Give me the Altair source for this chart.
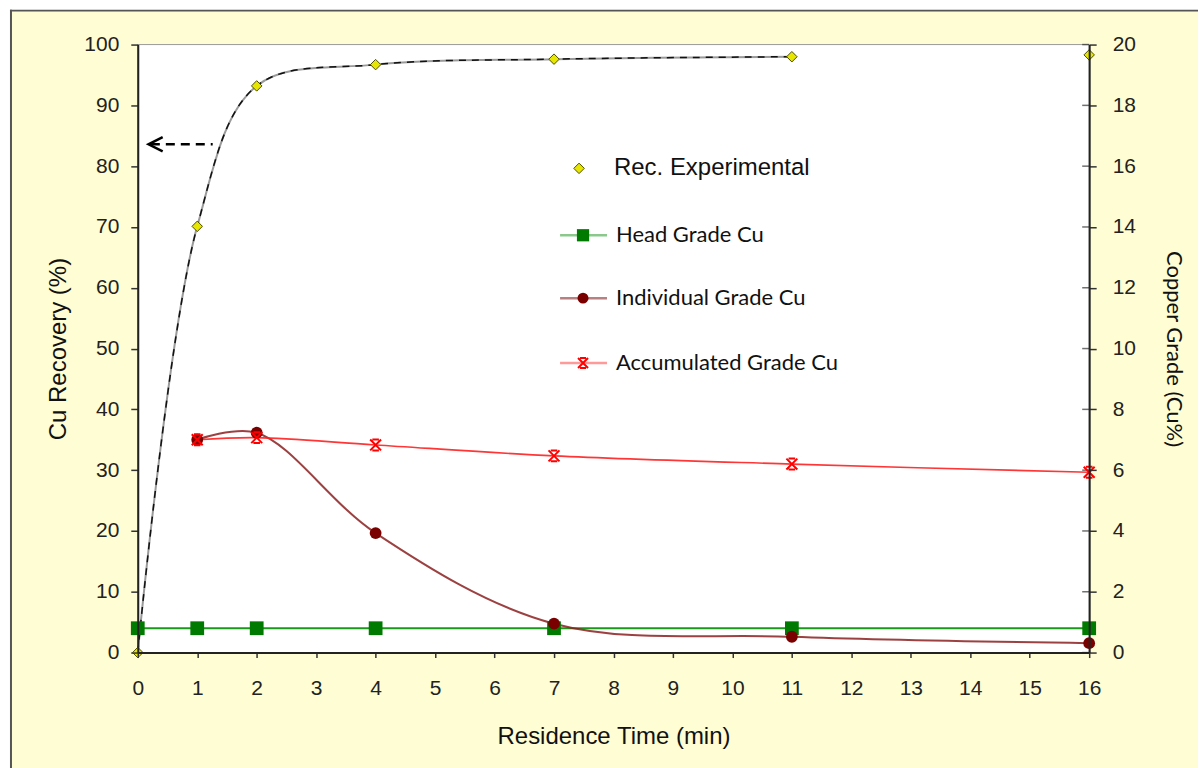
import altair as alt
import pandas as pd

# Flotation kinetics: copper recovery and concentrate grade vs residence time
time_rec = [0, 1, 2, 4, 7, 11, 16]
rec_experimental = [0.0, 70.1, 93.2, 96.7, 97.6, 98.0, 98.3]
rec_curve_time = [0, 1, 2, 4, 7, 11]
rec_curve_value = [0.0, 70.1, 93.2, 96.7, 97.6, 98.0]

time_head = [0, 1, 2, 4, 7, 11, 16]
head_grade = [0.8, 0.8, 0.8, 0.8, 0.8, 0.8, 0.8]

time_grade = [1, 2, 4, 7, 11, 16]
individual_grade = [7.0, 7.23, 3.93, 0.95, 0.52, 0.31]
accumulated_grade = [7.0, 7.07, 6.83, 6.47, 6.2, 5.93]

# arrow pointing at the recovery axis
arrow_time = [1.26, 0.22]
arrow_head_time = [0.3]
arrow_recovery = [83.6, 83.6]

x_ticks = list(range(0, 17))
left_ticks = [0, 10, 20, 30, 40, 50, 60, 70, 80, 90, 100]
right_ticks = [0, 2, 4, 6, 8, 10, 12, 14, 16, 18, 20]

W, H = 953, 609
PAD_L, PAD_T = 9, 8
PAGE_W, PAGE_H = 1199, 768
OFF_X, OFF_Y = 128, 35          # frame corner relative to the plot origin
FRAME_R = PAGE_W - PAD_L - OFF_X
FRAME_B = PAGE_H - PAD_T - OFF_Y
ARIAL = "Liberation Sans"
CALIBRI = "Lato"

rec_df = pd.DataFrame({"t": time_rec, "v": rec_experimental})
curve_df = pd.DataFrame({"t": rec_curve_time, "v": rec_curve_value})
head_df = pd.DataFrame({"t": time_head, "g": head_grade})
ind_df = pd.DataFrame({"t": time_grade, "g": individual_grade})
acc_df = pd.DataFrame({"t": time_grade, "g": accumulated_grade})
arrow_df = pd.DataFrame({"t": arrow_time, "v": arrow_recovery})
arrow_head_df = pd.DataFrame({"t": arrow_head_time, "v": arrow_recovery[:1]})
tick_df = pd.DataFrame({"g": right_ticks})
one = pd.DataFrame({"k": [0]})

x_axis = alt.Axis(
    values=x_ticks, title="Residence Time (min)", grid=False, labelFlush=False,
    domainColor="#222", domainWidth=2, tickColor="#333", tickWidth=1.5,
    tickSize=5, labelPadding=20, labelFont=ARIAL, labelFontSize=21,
    labelColor="#222", titleFont=ARIAL, titleFontSize=24,
    titleFontWeight="normal", titleColor="#111", titlePadding=26, zindex=1,
)
x_scale = alt.Scale(domain=[0, 16], nice=False, zero=False)


def xenc():
    return alt.X("t:Q", scale=x_scale, axis=x_axis)


left_y = alt.Y(
    "v:Q", scale=alt.Scale(domain=[0, 100], nice=False),
    axis=alt.Axis(
        orient="left", values=left_ticks, title="Cu Recovery (%)", grid=False,
        labelFlush=False,
        domainColor="#222", domainWidth=2, tickColor="#333", tickWidth=1.5,
        tickSize=7, labelPadding=12, labelFont=ARIAL, labelFontSize=21,
        labelColor="#222", titleFont=ARIAL, titleFontSize=24,
        titleFontWeight="normal", titleColor="#111", titlePadding=13, zindex=1,
    ),
)

right_y = alt.Y(
    "g:Q", scale=alt.Scale(domain=[0, 20], nice=False),
    axis=alt.Axis(
        orient="right", values=right_ticks, title="Copper Grade (Cu%)", grid=False,
        labelFlush=False,
        domainColor="#222", domainWidth=2, tickColor="#333", tickWidth=1.5,
        tickSize=7, labelPadding=16, labelFont=ARIAL, labelFontSize=21,
        labelColor="#222", titleFont=CALIBRI, titleFontSize=22,
        titleFontWeight="normal", titleColor="#111", titlePadding=26, zindex=1,
    ),
)

# page frame (cream panel with a dark edge on the left and top) and white plot area
frame = alt.Chart(one).mark_rect(fill="#FFFDD3").encode(
    x=alt.value(-OFF_X), x2=alt.value(FRAME_R), y=alt.value(-OFF_Y), y2=alt.value(FRAME_B)
)
frame_left = alt.Chart(one).mark_rule(color="#555555", strokeWidth=2).encode(
    x=alt.value(-OFF_X + 1), y=alt.value(-OFF_Y), y2=alt.value(FRAME_B)
)
frame_top = alt.Chart(one).mark_rule(color="#555555", strokeWidth=2).encode(
    x=alt.value(-OFF_X), x2=alt.value(FRAME_R), y=alt.value(-OFF_Y + 1)
)
plot_bg = alt.Chart(one).mark_rect(fill="white", stroke="#9a9a9a", strokeWidth=1).encode(
    x=alt.value(0), x2=alt.value(W), y=alt.value(0), y2=alt.value(H)
)

# recovery (left axis)
rec_curve_gray = alt.Chart(curve_df).mark_line(
    color="#9a9a9a", strokeWidth=2, interpolate="catmull-rom"
).encode(x=xenc(), y=left_y)
rec_curve_dash = alt.Chart(curve_df).mark_line(
    color="#111111", strokeWidth=1.5, strokeDash=[7, 6], interpolate="catmull-rom"
).encode(x=xenc(), y=left_y)
rec_pts = alt.Chart(rec_df).mark_point(
    shape="diamond", filled=True, fill="#E6E600", stroke="#4d4d00", strokeWidth=1,
    size=110, opacity=1,
).encode(x=xenc(), y=left_y)
arrow_line = alt.Chart(arrow_df).mark_line(
    color="#000", strokeWidth=2.5, strokeDash=[9, 6]
).encode(x=xenc(), y=left_y)
arrow_head = alt.Chart(arrow_head_df).mark_point(
    shape="M1,-1L-1,0L1,1", filled=False, stroke="#000", strokeWidth=2.5, size=200, opacity=1
).encode(x=xenc(), y=left_y)

left_group = alt.layer(rec_curve_gray, rec_curve_dash, arrow_line, arrow_head, rec_pts)

# grades (right axis)
# inner half of the crossing ticks on the grade axis
right_inner_ticks = alt.Chart(tick_df).mark_tick(
    color="#333", thickness=1.5, size=7, orient="horizontal"
).encode(x=alt.value(W - 3.5), y=right_y)
head_line = alt.Chart(head_df).mark_line(color="#1a9a1a", strokeWidth=2).encode(x=xenc(), y=right_y)
head_pts = alt.Chart(head_df).mark_point(
    shape="square", filled=True, color="#007A00", size=190, opacity=1
).encode(x=xenc(), y=right_y)
ind_line = alt.Chart(ind_df).mark_line(
    color="#8B2020", strokeWidth=2, interpolate="catmull-rom", opacity=0.85
).encode(x=xenc(), y=right_y)
ind_pts = alt.Chart(ind_df).mark_point(
    shape="circle", filled=True, color="#7A0000", size=140, opacity=1
).encode(x=xenc(), y=right_y)
acc_line = alt.Chart(acc_df).mark_line(
    color="#FF2020", strokeWidth=1.6, interpolate="catmull-rom", opacity=0.9
).encode(x=xenc(), y=right_y)
star = "M-1,-1L1,1M1,-1L-1,1M-0.6,-1L0.6,-1M-0.6,1L0.6,1"
acc_pts = alt.Chart(acc_df).mark_point(
    shape=star, filled=False, stroke="#FF0000", strokeWidth=2, size=120, opacity=1
).encode(x=xenc(), y=right_y)

right_group = alt.layer(right_inner_ticks, head_line, ind_line, acc_line,
                        head_pts, ind_pts, acc_pts)

# legend drawn inside the plot
legend_layers = []
legend_layers.append(
    alt.Chart(one).mark_point(
        shape="diamond", filled=True, fill="#E6E600", stroke="#4d4d00", strokeWidth=1,
        size=110, opacity=1,
    ).encode(x=alt.value(442), y=alt.value(124))
)
legend_layers.append(
    alt.Chart(one).mark_text(
        text="Rec. Experimental", font=ARIAL, fontSize=24, color="#111",
        align="left", baseline="middle",
    ).encode(x=alt.value(477), y=alt.value(124))
)
legend_items = [
    ("Head Grade Cu", 191, "#8cc88c", "square", "#007A00", True, 150),
    ("Individual Grade Cu", 254, "#b88080", "circle", "#7A0000", True, 120),
    ("Accumulated Grade Cu", 319, "#ff9a9a", star, "#FF0000", False, 100),
]
for label, ly, line_col, shp, mcol, filled, msize in legend_items:
    legend_layers.append(
        alt.Chart(one).mark_rule(color=line_col, strokeWidth=2.5).encode(
            x=alt.value(423), x2=alt.value(470), y=alt.value(ly)
        )
    )
    if filled:
        pt = alt.Chart(one).mark_point(shape=shp, filled=True, color=mcol, size=msize, opacity=1)
    else:
        pt = alt.Chart(one).mark_point(
            shape=shp, filled=False, stroke=mcol, strokeWidth=2, size=msize, opacity=1
        )
    legend_layers.append(pt.encode(x=alt.value(446), y=alt.value(ly)))
    legend_layers.append(
        alt.Chart(one).mark_text(
            text=label, font=CALIBRI, fontSize=22, color="#111",
            align="left", baseline="middle",
        ).encode(x=alt.value(479), y=alt.value(ly))
    )

chart = (
    alt.layer(frame, frame_left, frame_top, plot_bg, left_group, right_group, *legend_layers)
    .resolve_scale(y="independent")
    .properties(
        width=W, height=H, background="white",
        padding={"left": PAD_L, "top": PAD_T, "right": 0, "bottom": 0},
    )
    .configure_view(strokeWidth=0)
)

chart.save("out.html", embed_options={"renderer": "svg", "actions": False})
